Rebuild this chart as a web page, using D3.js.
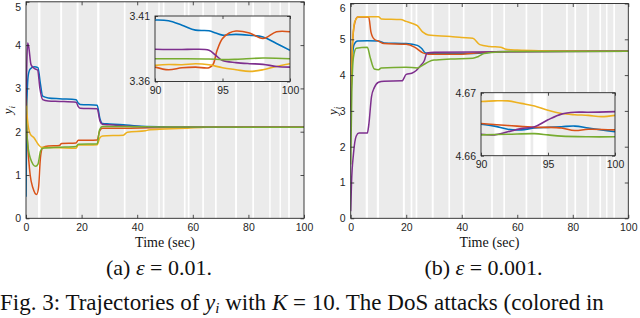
<!DOCTYPE html>
<html>
<head>
<script src="https://cdnjs.cloudflare.com/ajax/libs/d3/7.8.5/d3.min.js"></script>
<style>
  body { margin: 0; background: #fff; }
  svg { display: block; }
  .tick text { font-family: "Liberation Sans", Arial, sans-serif; font-size: 10.5px; fill: #262626; }
  .tick line { stroke: #262626; stroke-width: 0.8; }
  .serif { font-family: "Liberation Serif", "Times New Roman", serif; fill: #111; }
</style>
</head>
<body>
<svg id="fig" width="640" height="318"></svg>
<script>
// MATLAB default colours, agents 1..5
var agentColors = ["#0072BD", "#D95319", "#EDB120", "#7E2F8E", "#77AC30"];

// ---- panel (a): eps = 0.01 ----
var gapsA = [[4.3,5.2],[12.3,13.0],[18.2,18.9],[25.6,26.4],[35.2,35.8],[43.2,43.8],[47.6,48.1],
             [49.2,49.8],[56.8,57.4],[58.2,58.8],[63.4,64.0],[68.0,68.6],[75.2,75.9],[81.4,82.0],
             [87.5,88.0],[91.2,91.7],[94.3,94.9]];
var blueA   = [[0,0.5],[0.3,2.6],[0.8,3.3],[1.5,3.45],[3,3.5],[4.3,3.48],[5.2,3.1],[6,2.82],[8,2.78],[12,2.76],[18,2.74],[18.8,2.66],[19.5,2.63],[25.6,2.61],[26.6,2.3],[27.5,2.19],[30,2.18],[35,2.16],[40,2.13],[50,2.11],[60,2.1],[100,2.1]];
var orangeA = [[0,2.4],[0.5,1.8],[1.5,1.0],[2.5,0.7],[3.8,0.55],[4.5,0.7],[5.2,1.4],[6,1.63],[8,1.67],[12,1.68],[12.8,1.73],[18,1.74],[18.8,1.8],[25.6,1.81],[26.5,2.02],[27.5,2.08],[35,2.08],[45,2.09],[60,2.1],[100,2.1]];
var yellowA = [[0,3.0],[0.5,2.3],[1.5,1.95],[3,1.85],[4.5,1.7],[5.5,1.64],[12,1.63],[18,1.62],[18.8,1.69],[25.6,1.7],[26.5,1.85],[27.5,1.9],[35,1.92],[36.5,1.99],[43,2.02],[44,2.04],[50,2.06],[58,2.08],[65,2.1],[100,2.1]];
var purpleA = [[0,2.6],[0.3,3.6],[0.6,4.05],[1,3.95],[1.8,3.55],[3,3.46],[4.2,3.42],[5,3.0],[6,2.74],[8,2.71],[12,2.7],[18,2.68],[18.8,2.58],[19.5,2.54],[25.6,2.53],[26.6,2.25],[27.5,2.17],[30,2.16],[40,2.12],[50,2.1],[100,2.1]];
var greenA  = [[0,2.3],[0.5,1.8],[1.5,1.4],[3.5,1.2],[4.3,1.25],[5.2,1.55],[6,1.62],[12,1.64],[18,1.66],[18.8,1.71],[25.6,1.72],[26.5,2.05],[27.5,2.12],[35,2.12],[50,2.11],[100,2.1]];

var insetGapsA = [[93.3,94.2],[97.1,98.1]];
var blueAi   = [[90,3.4069],[91,3.4064],[92,3.403],[93,3.3992],[94,3.3987],[94.5,3.397],[95,3.3954],[96,3.396],[97,3.3953],[98,3.394],[99,3.389],[100,3.3838]];
var orangeAi = [[90,3.371],[91,3.369],[92,3.3705],[93,3.371],[94,3.3705],[94.3,3.373],[94.6,3.3838],[95,3.3928],[95.5,3.397],[96,3.3985],[97,3.397],[98,3.3928],[99,3.398],[100,3.398]];
var yellowAi = [[90,3.3723],[91,3.373],[92,3.3728],[93,3.3736],[94,3.3728],[95,3.3705],[96,3.369],[97,3.3677],[98,3.369],[99,3.3715],[100,3.3736]];
var purpleAi = [[90,3.3846],[91,3.3844],[92,3.3844],[93,3.3846],[94,3.3838],[94.5,3.38],[95,3.376],[96,3.3744],[97,3.3736],[98,3.3731],[99,3.3715],[100,3.371]];
var greenAi  = [[90,3.3774],[92,3.3774],[94,3.3772],[95,3.3767],[96,3.3769],[98,3.3779],[100,3.3774]];

// ---- panel (b): eps = 0.001 ----
var gapsB = [[5.4,6.2],[9.4,10.2],[18.8,19.5],[21.6,22.2],[23.4,24.0],[29.2,29.9],[35.2,35.8],[40.4,41.0],
             [50.6,51.2],[55.0,55.6],[63.0,63.6],[68.6,69.2],[77.6,78.2],[80.6,81.2],[85.2,85.8],
             [89.6,90.2],[92.0,92.5],[94.6,95.2]];
var blueB   = [[0,3.0],[0.5,4.3],[1.2,4.85],[2.5,4.95],[6,4.96],[10,4.95],[12,4.9],[20,4.88],[24,4.83],[25.5,4.75],[27,4.62],[30,4.6],[40,4.6],[48,4.62],[52,4.65],[60,4.66],[100,4.665]];
var orangeB = [[0,3.1],[0.5,4.6],[1.3,5.4],[2.5,5.62],[6.5,5.62],[7.3,5.2],[8.5,5.0],[10,4.95],[12,4.88],[20,4.86],[23,4.78],[26,4.62],[28,4.58],[40,4.58],[45,4.62],[52,4.65],[60,4.66],[100,4.665]];
var yellowB = [[0,3.0],[0.6,4.8],[1.5,5.5],[3,5.63],[10,5.63],[11,5.57],[18,5.55],[20,5.5],[22,5.45],[24,5.38],[26,5.2],[28,5.12],[36,5.08],[40,5.05],[44,5.03],[46.5,4.85],[50,4.8],[54,4.78],[56,4.72],[60,4.7],[70,4.68],[80,4.67],[100,4.668]];
var purpleB = [[0,0.2],[0.3,1.0],[1,1.8],[2,2.3],[3,2.38],[6,2.38],[6.5,2.6],[7.5,3.4],[8.5,3.65],[10,3.8],[12,3.83],[18.5,3.84],[20,4.02],[22,4.05],[23.5,4.12],[25,4.25],[26.5,4.4],[27.5,4.62],[30,4.64],[100,4.665]];
var greenB  = [[0,1.5],[0.4,3.5],[1,4.5],[2,4.75],[6,4.78],[7,4.5],[8.5,4.17],[10,4.15],[11,4.2],[20,4.22],[24,4.2],[26,4.28],[28,4.37],[30,4.42],[36,4.45],[44,4.47],[46,4.52],[48,4.6],[52,4.64],[60,4.66],[100,4.663]];

var insetGapsB = [[91.0,91.6],[93.3,93.7],[93.9,94.9]];
var blueBi   = [[90,4.665],[91,4.6647],[92,4.6642],[93,4.6641],[94,4.6644],[95,4.6645],[96,4.6646],[97,4.6647],[98,4.6644],[99,4.6641],[100,4.6638]];
var orangeBi = [[90,4.6651],[92,4.6648],[94,4.6645],[95,4.6645],[96,4.6644],[97,4.664],[98,4.6642],[100,4.6641]];
var yellowBi = [[90,4.6686],[91,4.6687],[92,4.6687],[93,4.6683],[94,4.6679],[95,4.6672],[96,4.6667],[97,4.6665],[98,4.6664],[99,4.6662],[100,4.6664]];
var purpleBi = [[90,4.6634],[91,4.6633],[92,4.6638],[93,4.6643],[94,4.6646],[95,4.6657],[96,4.6666],[97,4.6669],[98,4.6669],[100,4.667]];
var greenBi  = [[90,4.6633],[92,4.6634],[94,4.6635],[95,4.6633],[96,4.6631],[98,4.663],[100,4.663]];

var svg = d3.select("#fig");

function shade(g, x, y, gaps, clipId) {
  var xd = x.domain(), yd = y.domain();
  g.append("rect")
    .attr("x", x(xd[0])).attr("y", y(yd[1]))
    .attr("width", x(xd[1]) - x(xd[0])).attr("height", y(yd[0]) - y(yd[1]))
    .attr("fill", "#ebebeb");
  g.selectAll("rect.gap").data(gaps).enter().append("rect")
    .attr("class", "gap")
    .attr("x", function(d) { return x(d[0]); })
    .attr("y", y(yd[1]))
    .attr("width", function(d) { return x(d[1]) - x(d[0]); })
    .attr("height", y(yd[0]) - y(yd[1]))
    .attr("fill", "#ffffff");
  g.append("clipPath").attr("id", clipId).append("rect")
    .attr("x", x(xd[0])).attr("y", y(yd[1]))
    .attr("width", x(xd[1]) - x(xd[0])).attr("height", y(yd[0]) - y(yd[1]));
}

function drawLines(g, x, y, series, clipId, w, curve) {
  var line = d3.line().x(function(d) { return x(d[0]); }).y(function(d) { return y(d[1]); }).curve(curve);
  g.append("g").attr("clip-path", "url(#" + clipId + ")")
    .selectAll("path").data(series).enter().append("path")
    .attr("d", line)
    .attr("fill", "none")
    .attr("stroke", function(d, i) { return agentColors[i]; })
    .attr("stroke-width", w)
    .attr("stroke-linejoin", "round");
}

function axesBox(g, x, y, xTicks, yTicks, yFmt, tick) {
  var xd = x.domain(), yd = y.domain();
  var b = y(yd[0]), t = y(yd[1]), l = x(xd[0]), r = x(xd[1]);
  g.append("g").attr("transform", "translate(0," + b + ")")
    .call(d3.axisBottom(x).tickValues(xTicks).tickSizeInner(-tick).tickSizeOuter(0).tickPadding(5));
  g.append("g").attr("transform", "translate(0," + t + ")")
    .call(d3.axisTop(x).tickValues(xTicks).tickSizeInner(-tick).tickSizeOuter(0).tickFormat(""));
  g.append("g").attr("transform", "translate(" + l + ",0)")
    .call(d3.axisLeft(y).tickValues(yTicks).tickSizeInner(-tick).tickSizeOuter(0).tickPadding(5).tickFormat(yFmt));
  g.append("g").attr("transform", "translate(" + r + ",0)")
    .call(d3.axisRight(y).tickValues(yTicks).tickSizeInner(-tick).tickSizeOuter(0).tickFormat(""));
  g.selectAll(".domain").remove();
  g.append("rect").attr("x", l).attr("y", t).attr("width", r - l).attr("height", b - t)
    .attr("fill", "none").attr("stroke", "#262626").attr("stroke-width", 0.9);
}

function panel(p) {
  var g = svg.append("g");
  var x = d3.scaleLinear().domain([0, 100]).range([p.left, p.right]);
  var y = d3.scaleLinear().domain([0, p.ymax]).range([p.bottom, p.top]);
  shade(g, x, y, p.gaps, p.id + "clip");
  drawLines(g, x, y, p.series, p.id + "clip", 1.5, d3.curveMonotoneX);
  axesBox(g, x, y, [0, 20, 40, 60, 80, 100], d3.range(0, p.ymax + 1), d3.format("d"), 3.5);
  // keep the top label inside the picture
  g.selectAll(".tick text").filter(function(d) { return d === p.ymax && this.getAttribute("x") < 0; })
    .attr("dy", "0.8em");

  g.append("text").attr("class", "serif")
    .attr("x", (p.left + p.right) / 2).attr("y", 247)
    .attr("text-anchor", "middle").attr("font-size", 14).text("Time (sec)");
  var yl = g.append("text").attr("class", "serif")
    .attr("transform", "translate(" + (p.left - 14) + "," + ((p.top + p.bottom) / 2) + ") rotate(-90)")
    .attr("text-anchor", "middle").attr("font-size", 13);
  yl.append("tspan").attr("font-style", "italic").text("y");
  yl.append("tspan").attr("font-style", "italic").attr("font-size", 9).attr("dy", 3).text("i");

  // zoomed inset
  var q = p.inset;
  var gi = svg.append("g");
  var xi = d3.scaleLinear().domain([90, 100]).range([q.left, q.right]);
  var yi = d3.scaleLinear().domain(q.ydom).range([q.bottom, q.top]);
  shade(gi, xi, yi, q.gaps, p.id + "iclip");
  drawLines(gi, xi, yi, q.series, p.id + "iclip", 1.6, d3.curveCatmullRom);
  axesBox(gi, xi, yi, [90, 95, 100], q.ydom, d3.format(".2f"), 3);

  g.append("text").attr("class", "serif")
    .attr("x", (p.left + p.right) / 2 - 6).attr("y", 275)
    .attr("text-anchor", "middle").attr("font-size", 22)
    .html(p.caption);
}

panel({
  id: "a", left: 26, right: 304, top: 1.8, bottom: 218.3, ymax: 5, gaps: gapsA,
  series: [blueA, orangeA, yellowA, purpleA, greenA],
  caption: '(a) <tspan font-style="italic">ε</tspan> = 0.01.',
  inset: { left: 155, right: 290, top: 16, bottom: 81.5, ydom: [3.36, 3.41], gaps: insetGapsA,
           series: [blueAi, orangeAi, yellowAi, purpleAi, greenAi] }
});
panel({
  id: "b", left: 350.7, right: 628.3, top: 3.5, bottom: 218.3, ymax: 6, gaps: gapsB,
  series: [blueB, orangeB, yellowB, purpleB, greenB],
  caption: '(b) <tspan font-style="italic">ε</tspan> = 0.001.',
  inset: { left: 481, right: 615, top: 92.7, bottom: 155.7, ydom: [4.66, 4.67], gaps: insetGapsB,
           series: [blueBi, orangeBi, yellowBi, purpleBi, greenBi] }
});

// figure caption (runs to the right edge, as in the source)
var fc = svg.append("text").attr("class", "serif").attr("x", 0).attr("y", 310).attr("font-size", 23);
fc.append("tspan").text("Fig. 3: Trajectories of ");
fc.append("tspan").attr("font-style", "italic").text("y");
fc.append("tspan").attr("font-style", "italic").attr("font-size", 15).attr("dy", 3).text("i");
fc.append("tspan").attr("dy", -3).text(" with ");
fc.append("tspan").attr("font-style", "italic").text("K");
fc.append("tspan").text(" = 10. The DoS attacks (colored in");
</script>
</body>
</html>
